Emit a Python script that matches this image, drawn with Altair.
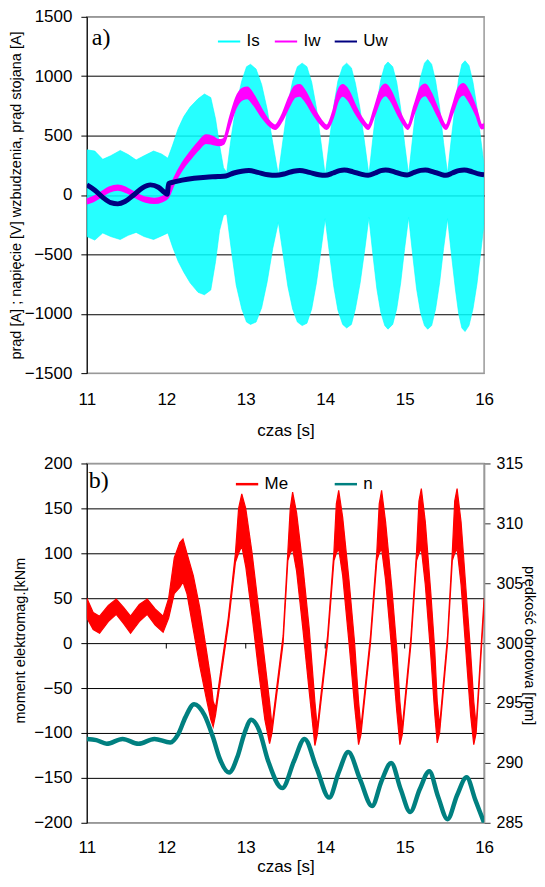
import altair as alt
import pandas as pd

FONT = "Liberation Sans"
SERIF = "Liberation Serif"

# ---------------- panel a) : stator current envelope, field current, field voltage
is_t = [11.00, 11.10, 11.20, 11.30, 11.42, 11.52, 11.62, 11.72, 11.84, 11.94, 12.02,
        12.08, 12.15, 12.22, 12.30, 12.40, 12.48, 12.56, 12.62, 12.67, 12.72, 12.76,
        12.82, 12.88, 12.95, 13.01, 13.06, 13.13, 13.20, 13.27, 13.34, 13.41,
        13.47, 13.53, 13.59, 13.65, 13.71, 13.77, 13.83, 13.89, 13.95, 14.00,
        14.055, 14.11, 14.16, 14.22, 14.27, 14.33, 14.38, 14.44, 14.50, 14.55,
        14.60, 14.65, 14.70, 14.75, 14.79, 14.85, 14.90, 14.95, 15.00, 15.05,
        15.10, 15.15, 15.20, 15.25, 15.29, 15.34, 15.39, 15.44, 15.49, 15.54,
        15.59, 15.64, 15.68, 15.72, 15.76, 15.81, 15.86, 15.91, 15.96, 16.00]
is_hi = [380, 370, 300, 330, 375, 340, 295, 330, 370, 345, 310,
         420, 560, 660, 740, 810, 850, 820, 640, 420, 230, 190,
         500, 760, 960, 1080, 1100, 1060, 930, 720, 440, 170,
         470, 760, 960, 1080, 1110, 1080, 950, 730, 430, 165,
         470, 760, 960, 1080, 1110, 1070, 940, 720, 420, 170,
         480, 770, 970, 1090, 1120, 1080, 950, 730, 430, 170,
         480, 780, 990, 1110, 1140, 1100, 960, 740, 440, 180,
         490, 780, 980, 1100, 1130, 1090, 950, 740, 460, 250]
is_lo = [-350, -380, -320, -350, -375, -340, -315, -350, -375, -345, -320,
         -440, -560, -650, -740, -820, -840, -800, -560, -300, -170, -160,
         -470, -760, -960, -1070, -1090, -1070, -950, -730, -450, -230,
         -500, -770, -960, -1070, -1100, -1080, -960, -740, -450, -200,
         -500, -780, -970, -1090, -1120, -1090, -960, -740, -450, -190,
         -500, -790, -990, -1100, -1130, -1090, -960, -740, -450, -190,
         -500, -790, -990, -1100, -1130, -1100, -960, -740, -450, -200,
         -510, -800, -1000, -1120, -1150, -1100, -960, -750, -470, -240]

iw_t = [11.00, 11.08, 11.17, 11.28, 11.39, 11.50, 11.62, 11.74, 11.85, 11.95, 12.02,
        12.10, 12.20, 12.30, 12.40, 12.50, 12.58, 12.66, 12.72, 12.80, 12.88, 12.96,
        13.02, 13.10, 13.20, 13.30, 13.37, 13.45, 13.55, 13.62, 13.68, 13.75, 13.85,
        13.95, 14.02, 14.10, 14.16, 14.22, 14.29, 14.38, 14.47, 14.54, 14.62, 14.70,
        14.76, 14.83, 14.92, 14.99, 15.04, 15.12, 15.20, 15.26, 15.33, 15.42, 15.52,
        15.60, 15.68, 15.74, 15.81, 15.90, 15.97, 16.00]
iw_mid = [-55, -35, 0, 45, 62, 40, -5, -40, -50, -35, -5,
          120, 240, 330, 410, 470, 460, 440, 450, 620, 780, 850,
          860, 800, 690, 600, 570, 640, 790, 870, 880, 830, 710,
          610, 570, 680, 830, 880, 840, 720, 620, 570, 700, 850,
          885, 830, 700, 610, 570, 720, 860, 885, 820, 690, 570,
          710, 860, 890, 830, 700, 575, 580]
iw_half = [18, 18, 18, 18, 18, 18, 18, 18, 18, 18, 18,
           22, 25, 28, 30, 32, 30, 22, 20, 30, 40, 45,
           45, 40, 30, 18, 15, 22, 38, 45, 45, 40, 28,
           18, 15, 25, 40, 45, 42, 30, 18, 15, 28, 42,
           45, 40, 28, 18, 15, 28, 42, 45, 40, 28, 15,
           28, 42, 45, 40, 28, 15, 15]

uw_t = [11.00, 11.10, 11.20, 11.30, 11.39, 11.48, 11.59, 11.70, 11.80, 11.90, 11.98,
        12.01, 12.03, 12.10, 12.20, 12.35, 12.50, 12.65, 12.75, 12.85, 12.95, 13.04,
        13.15, 13.28, 13.38, 13.50, 13.60, 13.68, 13.80, 13.92, 14.00, 14.10, 14.18,
        14.24, 14.35, 14.45, 14.54, 14.63, 14.70, 14.76, 14.87, 14.96, 15.03, 15.12,
        15.20, 15.26, 15.36, 15.45, 15.52, 15.60, 15.68, 15.75, 15.85, 15.93, 16.00]
uw_v = [85, 40, -20, -65, -75, -55, 0, 60, 85, 65, 20,
        5, 95, 110, 125, 140, 150, 155, 160, 185, 200, 205,
        190, 170, 165, 180, 200, 207, 190, 170, 165, 185, 205,
        210, 195, 175, 165, 185, 205, 210, 195, 175, 168, 190,
        207, 210, 195, 175, 165, 185, 205, 210, 195, 178, 170]

# ---------------- panel b) : electromagnetic torque band, rotational speed
me_t = [11.00, 11.08, 11.16, 11.27, 11.37, 11.46, 11.55, 11.66, 11.76, 11.86, 11.96,
        12.03, 12.10, 12.17, 12.21, 12.26, 12.34, 12.42, 12.50, 12.56, 12.59, 12.62,
        12.78, 12.87, 12.91, 12.95, 13.00, 13.08, 13.16, 13.24, 13.30, 13.33,
        13.47, 13.53, 13.56, 13.59, 13.64, 13.72, 13.80, 13.87, 13.90,
        14.03, 14.11, 14.14, 14.17, 14.22, 14.30, 14.37, 14.42, 14.45,
        14.57, 14.65, 14.68, 14.71, 14.76, 14.84, 14.90, 14.94, 14.97,
        15.08, 15.15, 15.18, 15.21, 15.26, 15.33, 15.38, 15.41, 15.44,
        15.54, 15.60, 15.63, 15.66, 15.71, 15.78, 15.83, 15.87, 15.90, 16.00]
me_hi = [50, 34, 30, 42, 49, 40, 30, 43, 49, 38, 30,
         50, 95, 112, 116, 100, 75, 40, -5, -40, -65, -72,
         28, 100, 150, 166, 150, 100, 40, -20, -65, -92,
         8, 102, 150, 168, 145, 85, 15, -65, -94,
         8, 102, 155, 170, 140, 70, 0, -65, -94,
         8, 102, 155, 170, 135, 60, -5, -65, -94,
         8, 102, 158, 172, 135, 55, -10, -65, -92,
         8, 102, 158, 172, 135, 50, -10, -65, -92, 50]
me_lo = [28, 15, 11, 24, 32, 22, 11, 24, 32, 20, 12,
         28, 55, 62, 68, 55, 15, -25, -60, -85, -93, -80,
         20, 90, 100, 108, 85, 30, -30, -85, -112, -100,
         0, 92, 100, 105, 80, 15, -55, -114, -102,
         0, 92, 100, 105, 75, 0, -70, -113, -102,
         0, 92, 100, 105, 70, -10, -75, -113, -102,
         0, 92, 100, 105, 65, -15, -80, -111, -100,
         0, 92, 100, 105, 65, -20, -80, -113, -100, 42]

n_t = [11.00, 11.12, 11.25, 11.45, 11.65, 11.85, 12.05, 12.15, 12.24, 12.35, 12.48,
       12.59, 12.67, 12.79, 12.90, 12.98, 13.07, 13.17, 13.28, 13.46, 13.61, 13.74,
       13.89, 14.05, 14.17, 14.29, 14.44, 14.59, 14.71, 14.83, 14.95, 15.07, 15.19,
       15.31, 15.42, 15.54, 15.66, 15.78, 15.89, 16.00]
n_v = [292.0, 291.9, 291.6, 292.0, 291.6, 292.0, 291.7, 292.4, 293.8, 294.9, 294.0,
       292.1, 290.4, 289.2, 290.6, 292.4, 293.6, 292.7, 290.2, 287.9, 290.2, 292.0,
       289.6, 287.1, 289.2, 290.9, 288.6, 286.4, 288.5, 290.0, 287.8, 285.9, 287.8,
       289.3, 287.2, 285.3, 287.3, 288.8, 286.9, 285.0]

x_ticks = [11, 12, 13, 14, 15, 16]
ya_ticks = [-1500, -1000, -500, 0, 500, 1000, 1500]
yb_ticks = [-200, -150, -100, -50, 0, 50, 100, 150, 200]
yn_ticks = [285, 290, 295, 300, 305, 310, 315]
series_a = ["Is", "Iw", "Uw"]
colors_a = ["#00FFFF", "#FF00FF", "#000080"]
series_b = ["Me", "n"]
colors_b = ["#FF0000", "#008080"]
panel_labels = ["a)", "b)"]

# ---------------- tables
is_df = pd.DataFrame({"t": is_t, "hi": is_hi, "lo": is_lo, "s": "Is"})
iw_df = pd.DataFrame({"t": iw_t,
                      "hi": [m + h for m, h in zip(iw_mid, iw_half)],
                      "lo": [m - h for m, h in zip(iw_mid, iw_half)],
                      "s": "Iw"})
uw_df = pd.DataFrame({"t": uw_t, "v": uw_v, "s": "Uw"})
me_df = pd.DataFrame({"t": me_t, "hi": me_hi, "lo": me_lo, "s": "Me"})
n_df = pd.DataFrame({"t": n_t, "v": n_v, "s": "n"})
xt_df = pd.DataFrame({"t": x_ticks[1:-1], "hi": 0, "lo": -6})

W = 398
HA = 357
HB = 360
TFS = 14.5


def grid_color(edge):
    return {"condition": {"test": f"abs(datum.value) >= {edge}", "value": "#999999"},
            "value": "#000000"}


def x_enc(label_pad, title_pad):
    return alt.X("t:Q", scale=alt.Scale(domain=[11, 16], nice=False, zero=False),
                 axis=alt.Axis(values=x_ticks, format="d", title="czas [s]",
                               labelFont=FONT, labelFontSize=17, labelColor="black",
                               labelPadding=label_pad, labelFlush=False,
                               labelOverlap=False, ticks=False, tickSize=0,
                               domain=False, grid=False, titleFont=FONT,
                               titleFontSize=17, titleFontWeight="normal",
                               titleColor="black", titlePadding=title_pad))


def y_axis(values, title, edge, title_x, title_y=None):
    kw = dict(values=values, format="d", title=title, titleFont=FONT, titleFontSize=TFS,
              titleFontWeight="normal", titleColor="black", titleX=title_x,
              titleBaseline="middle", labelFont=FONT, labelFontSize=17,
              labelColor="black", labelPadding=9, tickSize=6, tickColor="black",
              domainColor="black", domainWidth=1, grid=True, gridWidth=1,
              gridColor=grid_color(edge))
    if title_y is not None:
        kw["titleY"] = title_y
    return alt.Axis(**kw)


def legend(x, y, pad, sw):
    return alt.Legend(orient="none", legendX=x, legendY=y, direction="horizontal",
                      title=None, symbolType="stroke", symbolSize=500,
                      symbolStrokeWidth=sw, labelFont=FONT, labelFontSize=17,
                      labelColor="black", labelOffset=5, columnPadding=pad,
                      padding=0)


xa = x_enc(18, 15)
xb = x_enc(17, 3)

ya_scale = alt.Scale(domain=[-1500, 1500], nice=False, zero=False)
ya_axis = y_axis(ya_ticks, "prąd [A] ; napięcie [V] wzbudzenia, prąd stojana [A]",
                 1500, -70)
stroke_a = alt.Stroke("s:N", scale=alt.Scale(domain=series_a, range=colors_a),
                      legend=legend(130, 12, 10, 2))

is_layer = alt.Chart(is_df).mark_area(fill=colors_a[0], fillOpacity=0.85,
                                      strokeWidth=0.6, clip=True).encode(
    x=xa, y=alt.Y("hi:Q", scale=ya_scale, axis=ya_axis), y2="lo:Q", stroke=stroke_a)
iw_layer = alt.Chart(iw_df).mark_area(fill=colors_a[1], strokeWidth=2,
                                      interpolate="monotone", clip=True).encode(
    x=xa, y=alt.Y("hi:Q", scale=ya_scale, axis=ya_axis), y2="lo:Q", stroke=stroke_a)
uw_layer = alt.Chart(uw_df).mark_line(strokeWidth=5, interpolate="monotone",
                                      clip=True).encode(
    x=xa, y=alt.Y("v:Q", scale=ya_scale, axis=ya_axis), stroke=stroke_a)
lab_a = alt.Chart(pd.DataFrame({"lab": [panel_labels[0]]})).mark_text(
    font=SERIF, fontSize=24, align="left", baseline="alphabetic", color="black").encode(
    x=alt.value(5), y=alt.value(28), text="lab:N")

panel_a = alt.layer(is_layer, iw_layer, uw_layer, lab_a).properties(width=W, height=HA)

yb_scale = alt.Scale(domain=[-200, 200], nice=False, zero=False)
yb_axis = y_axis(yb_ticks, "moment elektromag.[kNm", 200, -66, 177)
yn_scale = alt.Scale(domain=[285, 315], nice=False, zero=False)
yn_axis = alt.Axis(values=yn_ticks, format="d", orient="right",
                   title="prędkość obrotowa [rpm]",
                   titleFont=FONT, titleFontSize=TFS, titleFontWeight="normal",
                   titleColor="black", titleX=44, titleY=182, titleBaseline="middle",
                   labelFont=FONT, labelFontSize=16, labelColor="black",
                   labelPadding=6, tickSize=6, tickColor="#333333",
                   domainColor="#999999", domainWidth=1.5, grid=False)
stroke_b = alt.Stroke("s:N", scale=alt.Scale(domain=series_b, range=colors_b),
                      legend=legend(148, 8, 41, 2.5))

me_layer = alt.Chart(me_df).mark_area(fill=colors_b[0], strokeWidth=1.2,
                                      clip=True).encode(
    x=xb, y=alt.Y("hi:Q", scale=yb_scale, axis=yb_axis), y2="lo:Q", stroke=stroke_b)
xt_layer = alt.Chart(xt_df).mark_rule(color="black", strokeWidth=1).encode(
    x=xb, y=alt.Y("hi:Q", scale=yb_scale, axis=yb_axis), y2="lo:Q")
left_b = alt.layer(me_layer, xt_layer)
n_layer = alt.Chart(n_df).mark_line(strokeWidth=4.5, interpolate="monotone",
                                    clip=True).encode(
    x=xb, y=alt.Y("v:Q", scale=yn_scale, axis=yn_axis), stroke=stroke_b)
lab_b = alt.Chart(pd.DataFrame({"lab": [panel_labels[1]]})).mark_text(
    font=SERIF, fontSize=24, align="left", baseline="alphabetic", color="black").encode(
    x=alt.value(2), y=alt.value(25), text="lab:N")

panel_b = alt.layer(left_b, n_layer, lab_b).resolve_scale(
    y="independent").properties(width=W, height=HB)

chart = alt.vconcat(panel_a, panel_b, spacing=14.5).resolve_scale(
    stroke="independent", x="independent").properties(
    padding={"left": 0, "top": -2, "right": 0, "bottom": 0}).configure(
    font=FONT).configure_view(stroke="#999999", strokeWidth=1.5)

chart.save("out.html", embed_options={"renderer": "svg", "actions": False})
